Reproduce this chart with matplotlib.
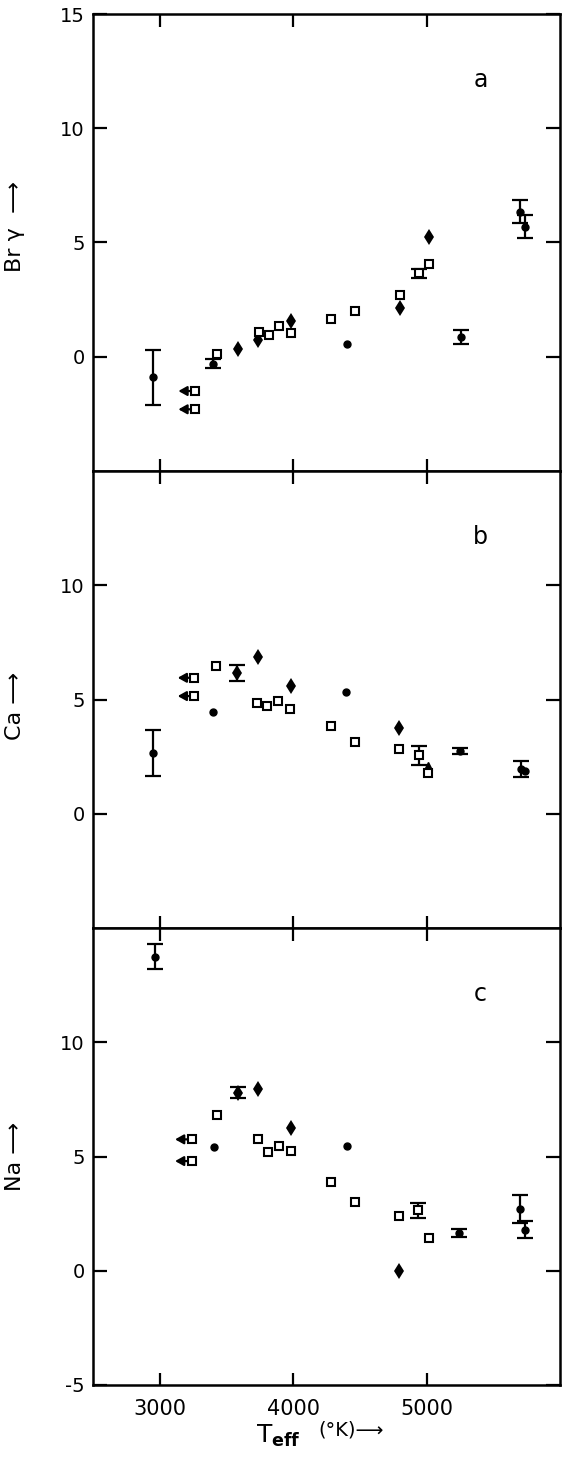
import matplotlib
matplotlib.use("Agg")
import matplotlib.pyplot as plt
import numpy as np

plt.rcParams["font.family"] = ["DejaVu Sans"]
plt.rcParams["mathtext.fontset"] = "dejavusans"
plt.rcParams["axes.unicode_minus"] = False

# kinds: o = filled circle, d = filled diamond, s = open square,
# ^ = filled triangle, lim = open square upper limit (arrow to the left)

# panel a: Br gamma
teff_a = [2950, 3265, 3265, 3400, 3430, 3585, 3740, 3745, 3820, 3895, 3985, 3985,
          4285, 4405, 4465, 4800, 4800, 4940, 5020, 5020, 5255, 5700, 5735]
bry = [-0.9, -1.5, -2.3, -0.3, 0.1, 0.35, 0.75, 1.1, 0.95, 1.35, 1.55, 1.05,
       1.65, 0.55, 2.0, 2.7, 2.15, 3.65, 4.05, 5.25, 0.85, 6.35, 5.7]
bry_err = [1.2, 0, 0, 0.2, 0, 0, 0, 0, 0, 0, 0, 0,
           0, 0, 0, 0, 0, 0.2, 0, 0, 0.3, 0.5, 0.5]
kind_a = ["o", "lim", "lim", "o", "s", "d", "d", "s", "s", "s", "d", "s",
          "s", "o", "s", "s", "d", "s", "s", "d", "o", "o", "o"]

# panel b: Ca
teff_b = [2950, 3260, 3260, 3400, 3425, 3580, 3735, 3730, 3805, 3890, 3985, 3980,
          4280, 4395, 4460, 4790, 4790, 4940, 5010, 5010, 5250, 5705, 5735]
ca = [2.65, 5.95, 5.15, 4.45, 6.45, 6.15, 6.85, 4.85, 4.7, 4.95, 5.6, 4.6,
      3.85, 5.35, 3.15, 3.75, 2.85, 2.55, 2.1, 1.8, 2.75, 1.95, 1.85]
ca_err = [1.0, 0, 0, 0, 0, 0.35, 0, 0, 0, 0, 0, 0,
          0, 0, 0, 0, 0, 0.4, 0, 0, 0.12, 0.35, 0]
kind_b = ["o", "lim", "lim", "o", "s", "d", "d", "s", "s", "s", "d", "s",
          "s", "o", "s", "d", "s", "s", "^", "s", "o", "o", "o"]

# panel c: Na
teff_c = [2965, 3240, 3240, 3405, 3430, 3585, 3740, 3740, 3810, 3895, 3985, 3985,
          4280, 4405, 4460, 4795, 4790, 4935, 5015, 5240, 5700, 5740]
na = [13.75, 5.75, 4.8, 5.4, 6.8, 7.8, 7.95, 5.75, 5.2, 5.45, 6.25, 5.25,
      3.9, 5.45, 3.0, 2.4, 0.0, 2.65, 1.45, 1.65, 2.7, 1.8]
na_err = [0.53, 0, 0, 0, 0, 0.25, 0, 0, 0, 0, 0, 0,
          0, 0, 0, 0, 0, 0.33, 0, 0.18, 0.6, 0.36]
kind_c = ["o", "lim", "lim", "o", "s", "d", "d", "s", "s", "s", "d", "s",
          "s", "o", "s", "s", "d", "s", "s", "o", "o", "o"]

x_ticks = [3000, 4000, 5000]
x_ticklabels = ["3000", "4000", "5000"]


def draw_panel(ax, teff, vals, errs, kinds, ylabel, ylabel_y, letter,
               yticks, yticklabels):
    teff = np.asarray(teff, dtype=float)
    vals = np.asarray(vals, dtype=float)
    errs = np.asarray(errs, dtype=float)
    kinds = np.asarray(kinds)

    m = errs > 0
    ax.errorbar(teff[m], vals[m], yerr=errs[m], fmt="none", ecolor="black",
                elinewidth=1.6, capsize=6, capthick=1.6, zorder=2)

    sel = kinds == "o"
    ax.plot(teff[sel], vals[sel], "o", color="black", ms=5, zorder=3)
    sel = kinds == "d"
    ax.plot(teff[sel], vals[sel], "d", color="black", ms=8.5, mew=0, zorder=3)
    sel = kinds == "^"
    ax.plot(teff[sel], vals[sel], "^", color="black", ms=6, zorder=3)
    sel = (kinds == "s") | (kinds == "lim")
    ax.plot(teff[sel], vals[sel], "s", mfc="white", mec="black", ms=6,
            mew=1.5, zorder=4)

    # upper limits: short arrow pointing to lower temperature
    for x, y in zip(teff[kinds == "lim"], vals[kinds == "lim"]):
        ax.annotate("", xy=(x - 125, y), xytext=(x - 32, y),
                    arrowprops=dict(arrowstyle="-|>,head_length=0.5,head_width=0.28",
                                    color="black", lw=1.6, shrinkA=0, shrinkB=0))

    ax.set_xlim(2500, 6000)
    ax.set_ylim(-5, 15)
    ax.set_xticks(x_ticks)
    ax.set_yticks(yticks)
    ax.set_yticklabels(yticklabels)
    ax.tick_params(axis="both", direction="in", top=True, right=True,
                   width=1.6, labelsize=14)
    ax.tick_params(axis="y", length=10, pad=6)
    ax.tick_params(axis="x", length=9, pad=10, labelsize=15)
    for sp in ax.spines.values():
        sp.set_linewidth(1.8)

    ax.set_ylabel(ylabel, fontsize=16)
    ax.yaxis.set_label_coords(-0.145, ylabel_y)
    ax.text(0.83, 0.855, letter, transform=ax.transAxes, fontsize=17,
            ha="center", va="center")


fig = plt.figure(figsize=(5.7, 14.63), dpi=100)
gs = fig.add_gridspec(3, 1, hspace=0,
                      left=93 / 570, right=560 / 570,
                      top=1 - 14 / 1463, bottom=1 - 1385 / 1463)
ax_a = fig.add_subplot(gs[0])
ax_b = fig.add_subplot(gs[1], sharex=ax_a)
ax_c = fig.add_subplot(gs[2], sharex=ax_a)

draw_panel(ax_a, teff_a, bry, bry_err, kind_a, "Br γ  ⟶", 0.535, "a",
           [0, 5, 10, 15], ["0", "5", "10", "15"])
draw_panel(ax_b, teff_b, ca, ca_err, kind_b, "Ca ⟶", 0.485, "b",
           [0, 5, 10], ["0", "5", "10"])
draw_panel(ax_c, teff_c, na, na_err, kind_c, "Na ⟶", 0.5, "c",
           [-5, 0, 5, 10], ["-5", "0", "5", "10"])

ax_a.tick_params(axis="x", labelbottom=False)
ax_b.tick_params(axis="x", labelbottom=False)
ax_c.set_xticklabels(x_ticklabels)
ax_c.set_xlabel(r"T$_{\bf eff}$", fontsize=18, ha="left", va="center")
ax_c.xaxis.set_label_coords(0.35, -0.112)
ax_c.text(0.482, -0.098, "(°K)⟶", transform=ax_c.transAxes, fontsize=14,
          ha="left", va="center", clip_on=False)

fig.savefig("out.png", dpi=100, facecolor="white")
